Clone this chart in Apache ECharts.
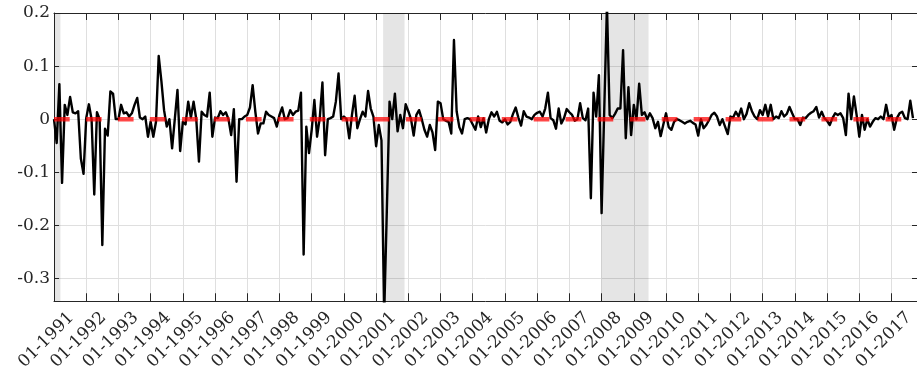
<!DOCTYPE html>
<html>
<head>
<meta charset="utf-8">
<script src="https://cdn.jsdelivr.net/npm/echarts@6/dist/echarts.min.js"></script>
<style>
  html, body { margin: 0; padding: 0; background: #ffffff; }
  #chart { width: 917px; height: 373px; }
</style>
</head>
<body>
<div id="chart"></div>
<script>
// Monthly series, one value per month starting 01-1991 (index 0).
const values = [
  0.000, -0.045, 0.066, -0.120, 0.027, 0.008, 0.042, 0.013, 0.011, 0.015, -0.074, -0.103,
  0.002, 0.028, 0.000, -0.142, 0.013, 0.000, -0.237, -0.018, -0.031, 0.052, 0.048, 0.000,
  0.000, 0.027, 0.011, 0.013, 0.005, 0.011, 0.027, 0.040, 0.003, 0.000, 0.005, -0.033,
  -0.005, -0.033, -0.005, 0.119, 0.072, 0.017, -0.014, 0.000, -0.055, 0.000, 0.055, -0.060,
  -0.005, -0.010, 0.033, 0.003, 0.033, 0.000, -0.080, 0.014, 0.008, 0.005, 0.050, -0.033,
  0.003, 0.002, 0.015, 0.008, 0.013, 0.000, -0.030, 0.019, -0.118, 0.000, 0.000, 0.005,
  0.008, 0.022, 0.064, 0.014, -0.027, -0.008, -0.008, 0.014, 0.008, 0.005, 0.002, -0.014,
  0.008, 0.022, 0.000, 0.002, 0.017, 0.008, 0.014, 0.016, 0.050, -0.255, -0.014, -0.064,
  -0.020, 0.036, -0.033, 0.002, 0.069, -0.068, 0.000, 0.002, 0.005, 0.033, 0.086, 0.000,
  0.005, 0.000, -0.036, 0.008, 0.044, -0.017, 0.000, 0.014, 0.005, 0.053, 0.020, 0.005,
  -0.051, -0.011, -0.040, -0.370, -0.170, 0.033, 0.000, 0.048, -0.023, 0.008, -0.017, 0.028,
  0.015, 0.000, -0.031, 0.008, 0.017, 0.000, -0.020, -0.033, -0.011, -0.025, -0.058, 0.033,
  0.030, 0.000, -0.003, -0.005, -0.027, 0.149, 0.015, -0.015, -0.027, 0.000, 0.002, 0.000,
  -0.010, -0.020, 0.005, -0.015, 0.002, -0.025, 0.000, 0.013, 0.005, 0.014, -0.003, -0.006,
  0.000, -0.010, -0.005, 0.010, 0.022, 0.003, -0.012, 0.015, 0.005, 0.003, 0.000, 0.008,
  0.012, 0.014, 0.005, 0.020, 0.050, 0.002, -0.002, -0.018, 0.020, -0.008, 0.002, 0.019,
  0.013, 0.008, -0.003, 0.000, 0.030, 0.002, -0.002, 0.020, -0.149, 0.050, 0.005, 0.083,
  -0.177, 0.020, 0.215, 0.008, 0.002, 0.010, 0.020, 0.020, 0.130, -0.036, 0.060, -0.030,
  0.027, 0.000, 0.067, 0.008, 0.013, 0.000, 0.011, 0.002, -0.017, -0.005, -0.032, -0.010,
  0.011, -0.015, -0.020, -0.005, 0.000, -0.002, -0.005, -0.008, -0.005, -0.003, -0.007, -0.010,
  -0.031, 0.000, -0.017, -0.011, -0.002, 0.008, 0.012, 0.005, -0.011, 0.000, -0.014, -0.028,
  0.005, 0.003, 0.014, 0.005, 0.020, 0.000, 0.010, 0.030, 0.015, 0.005, 0.000, 0.017,
  0.008, 0.027, 0.005, 0.027, 0.000, 0.005, 0.002, 0.015, 0.005, 0.010, 0.023, 0.011,
  0.000, 0.000, -0.011, 0.003, 0.002, 0.008, 0.012, 0.015, 0.023, 0.003, 0.014, 0.002,
  -0.003, -0.011, 0.002, 0.011, 0.008, 0.011, 0.002, -0.030, 0.048, 0.000, 0.043, 0.008,
  -0.033, 0.008, -0.020, 0.000, -0.014, -0.005, 0.002, 0.000, 0.005, 0.000, 0.027, 0.002,
  0.008, -0.020, 0.002, 0.011, 0.014, 0.002, 0.000, 0.035, 0.002
];

// Year tick labels, one per January.
const tickLabels = [
  '01-1991', '01-1992', '01-1993', '01-1994', '01-1995', '01-1996', '01-1997',
  '01-1998', '01-1999', '01-2000', '01-2001', '01-2002', '01-2003', '01-2004',
  '01-2005', '01-2006', '01-2007', '01-2008', '01-2009', '01-2010', '01-2011',
  '01-2012', '01-2013', '01-2014', '01-2015', '01-2016', '01-2017'
];

const yTicks = [-0.3, -0.2, -0.1, 0, 0.1, 0.2];

// Recession periods, in months since 01-1991.
const recessions = [[0, 2.4], [122.6, 130.6], [203.9, 221.5]];

// Zero-level marker periods (start month, since 01-1991) and their length in months.
const zeroStarts = [
  0.0, 11.9, 23.8, 35.7, 47.7, 59.6, 71.5, 83.4, 95.3, 107.2, 119.1, 131.1, 143.0, 154.9,
  166.8, 178.7, 190.6, 202.5, 214.5, 226.4, 238.3, 250.2, 262.1, 274.0, 285.9, 297.8, 309.8
];
const zeroLength = 5.85;

const lineData = values.map((v, i) => [i, v]);
const zeroData = [];
zeroStarts.forEach(s => {
  zeroData.push([s, 0], [s + zeroLength, 0], [s + zeroLength + 0.01, '-']);
});

const axisColor = '#262626';
const gridColor = '#dfdfdf';
const font = 'DejaVu Serif';
const xMax = 321.5, yMin = -0.343, yMax = 0.2;

const chart = echarts.init(document.getElementById('chart'), null, { renderer: 'canvas' });

const xLabel = v => {
  const k = Math.round(v / 12);
  return (Math.abs(v - k * 12) < 1e-6 && tickLabels[k]) ? tickLabels[k] : '';
};

chart.setOption({
  animation: false,
  backgroundColor: '#ffffff',
  grid: { left: 54, right: -2, top: 13, bottom: 71 },
  xAxis: [
    {
      type: 'value', min: 0, max: xMax, interval: 12, position: 'bottom',
      axisLine: { show: true, onZero: false, lineStyle: { color: axisColor, width: 1 } },
      axisTick: { show: true, inside: true, length: 8, lineStyle: { color: axisColor } },
      splitLine: { show: true, lineStyle: { color: gridColor, width: 1 } },
      axisLabel: {
        rotate: 45, margin: 2, align: 'right', verticalAlign: 'top',
        padding: [12, -4, 0, 0],
        showMaxLabel: false, color: axisColor,
        fontFamily: font, fontSize: 17, formatter: xLabel
      }
    },
    {
      type: 'value', min: 0, max: xMax, interval: 12, position: 'top',
      axisLine: { show: true, onZero: false, lineStyle: { color: axisColor, width: 1 } },
      axisTick: { show: true, inside: true, length: 7, lineStyle: { color: axisColor } },
      splitLine: { show: false }, axisLabel: { show: false }
    }
  ],
  yAxis: [
    {
      type: 'value', min: yMin, max: yMax, position: 'left',
      axisLine: { show: true, onZero: false, lineStyle: { color: axisColor, width: 1 } },
      axisTick: { show: true, inside: true, length: 5, customValues: yTicks, lineStyle: { color: axisColor } },
      splitLine: { show: true, lineStyle: { color: gridColor, width: 1 } },
      axisLabel: {
        customValues: yTicks, margin: 4, color: axisColor,
        fontFamily: font, fontSize: 17,
        formatter: v => String(Math.round(v * 10) / 10)
      }
    },
    {
      type: 'value', min: yMin, max: yMax, position: 'right',
      axisLine: { show: true, onZero: false, lineStyle: { color: axisColor, width: 1 } },
      axisTick: { show: true, inside: true, length: 5, customValues: yTicks, lineStyle: { color: axisColor } },
      splitLine: { show: false }, axisLabel: { show: false }
    }
  ],
  series: [
    {
      type: 'line', xAxisIndex: 0, yAxisIndex: 0,
      data: lineData, showSymbol: false, clip: true, z: 3,
      lineStyle: { color: '#000000', width: 2.4, join: 'round' },
      markArea: {
        silent: true,
        itemStyle: { color: 'rgba(0,0,0,0.1)' },
        data: recessions.map(r => [{ xAxis: r[0] }, { xAxis: r[1] }])
      }
    },
    {
      type: 'line', xAxisIndex: 0, yAxisIndex: 0,
      data: zeroData, showSymbol: false, connectNulls: false, clip: true, z: 4,
      lineStyle: { color: 'rgba(255,0,0,0.72)', width: 4.5, cap: 'butt' }
    }
  ]
});
</script>
</body>
</html>
